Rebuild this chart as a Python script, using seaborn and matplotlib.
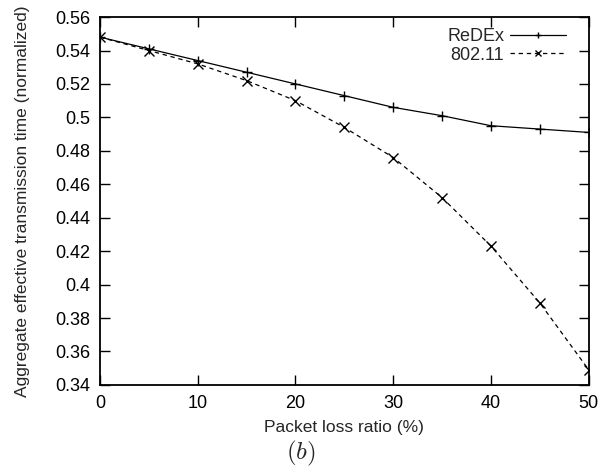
import pandas as pd
import seaborn as sns
import matplotlib.pyplot as plt

# dados
loss = [0, 5, 10, 15, 20, 25, 30, 35, 40, 45, 50]
redex = [0.548, 0.541, 0.534, 0.527, 0.520, 0.513, 0.506, 0.501, 0.495, 0.493, 0.491]
wifi = [0.548, 0.540, 0.532, 0.522, 0.510, 0.494, 0.476, 0.452, 0.423, 0.389, 0.349]

df = pd.DataFrame({
    'loss': loss * 2,
    'time': redex + wifi,
    'proto': ['ReDEx'] * len(loss) + ['802.11'] * len(loss),
})

sns.set_style("ticks")
plt.rcParams['font.family'] = ['Liberation Sans', 'DejaVu Sans']
plt.rcParams['mathtext.fontset'] = 'cm'

fig = plt.figure(figsize=(6.02, 4.74), dpi=100)
ax = fig.add_axes([0.166, 0.188, 0.812, 0.776])

sns.lineplot(data=df, x='loss', y='time', style='proto', hue='proto',
             palette=['black', 'black'], markers={'ReDEx': '+', '802.11': 'x'},
             dashes={'ReDEx': '', '802.11': (3.5, 3)}, markersize=7,
             markeredgewidth=1, markeredgecolor='black', linewidth=0.9, ax=ax)

ax.set_xlim(0, 50)
ax.set_ylim(0.34, 0.56)
ax.set_xticks(range(0, 51, 10))
ax.set_yticks([0.34 + 0.02 * i for i in range(12)])
ax.set_yticklabels(['0.34', '0.36', '0.38', '0.4', '0.42', '0.44', '0.46',
                    '0.48', '0.5', '0.52', '0.54', '0.56'])
ax.tick_params(direction='in', length=7, width=1, top=True, right=True,
               labelsize=13, pad=7, colors='black')
for s in ax.spines.values():
    s.set_linewidth(1.3)
    s.set_color('black')

ax.set_xlabel("Packet loss ratio (%)", fontsize=12.5, labelpad=6)
ax.set_ylabel("Aggregate effective transmission time (normalized)", fontsize=12.5, labelpad=18)

leg = ax.legend(loc='upper right', bbox_to_anchor=(0.975, 1.0), frameon=False,
                markerfirst=False, handlelength=3.1, fontsize=13, borderaxespad=0.3,
                handletextpad=0.3, labelspacing=0.1, borderpad=0.3,
                markerscale=0.7)

fig.text(0.5, 0.03, '$(b)$', ha='center', fontsize=18)

plt.savefig('out.png', dpi=100)
